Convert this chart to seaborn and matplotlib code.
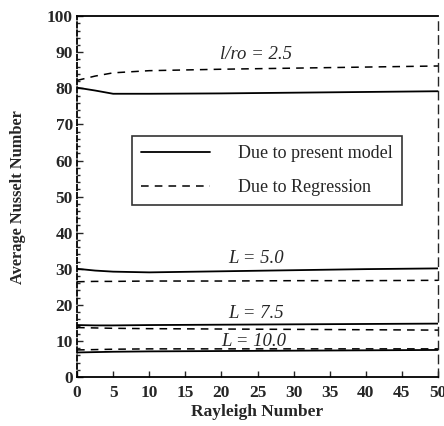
import matplotlib
matplotlib.use("Agg")
import matplotlib.pyplot as plt
import seaborn as sns
import pandas as pd
import numpy as np
from matplotlib.ticker import MultipleLocator

sns.set_theme(style="ticks")
plt.rcParams['font.family'] = ['Liberation Serif', 'DejaVu Serif']

rayleigh = [0, 2.5, 5, 10, 20, 30, 40, 50]
uro_model = [80.2, 79.4, 78.5, 78.5, 78.6, 78.8, 79.0, 79.2]
uro_regr = [82.2, 83.4, 84.3, 84.9, 85.3, 85.6, 85.9, 86.2]
l5_model = [30.0, 29.5, 29.2, 29.0, 29.3, 29.6, 29.9, 30.1]
l5_regr = [26.4, 26.5, 26.5, 26.6, 26.6, 26.7, 26.7, 26.8]
l75_model = [14.4, 14.3, 14.3, 14.4, 14.5, 14.6, 14.7, 14.8]
l75_regr = [13.7, 13.6, 13.5, 13.4, 13.3, 13.2, 13.1, 13.0]
l10_model = [6.8, 6.9, 7.0, 7.1, 7.2, 7.3, 7.4, 7.5]
l10_regr = [7.5, 7.6, 7.7, 7.8, 7.8, 7.8, 7.8, 7.8]

series_labels = ["l/ro = 2.5", "L = 5.0", "L = 7.5", "L = 10.0"]
legend_labels = ["Due to present model", "Due to Regression"]
x_ticks = [0, 5, 10, 15, 20, 25, 30, 35, 40, 45, 50]
y_ticks = [0, 10, 20, 30, 40, 50, 60, 70, 80, 90, 100]

fig = plt.figure(figsize=(4.44, 4.26), dpi=100)
ax = fig.add_axes([0.1735, 0.115, 0.813, 0.847])

model_sets = [uro_model, l5_model, l75_model, l10_model]
regr_sets = [uro_regr, l5_regr, l75_regr, l10_regr]
for m, r in zip(model_sets, regr_sets):
    sns.lineplot(x=rayleigh, y=m, ax=ax, color="black", lw=1.3, linestyle="-")
    sns.lineplot(x=rayleigh, y=r, ax=ax, color="black", lw=1.1, linestyle=(0, (5, 4)))

ax.set_xlim(0, 50)
ax.set_ylim(0, 100)
ax.set_xticks(x_ticks)
ax.set_yticks(y_ticks)
ax.yaxis.set_minor_locator(MultipleLocator(2))
ax.tick_params(axis='both', which='major', direction='in', length=4, width=1,
               labelsize=12.5, pad=3)
ax.tick_params(axis='x', which='major', pad=6)
ax.tick_params(axis='y', which='minor', direction='in', length=2.5, width=1)
for lab in ax.get_xticklabels() + ax.get_yticklabels():
    lab.set_fontweight('bold')

for side in ['top', 'bottom', 'left']:
    ax.spines[side].set_linewidth(1.3)
    ax.spines[side].set_color('black')
ax.spines['right'].set_linestyle((0, (6, 4)))
ax.spines['right'].set_linewidth(1.0)
ax.spines['left'].set_linestyle((0, (3, 1.5)))

ax.set_xlabel("Rayleigh Number", fontsize=12.5, fontweight='bold', labelpad=2)
ax.set_ylabel("Average Nusselt Number", fontsize=11.8, fontweight='bold', labelpad=15)

label_pos = [(19.8, 89.5), (21.0, 32.8), (21.0, 17.6), (20.0, 9.8)]
for txt, (xx, yy) in zip(series_labels, label_pos):
    ax.text(xx, yy, txt, fontsize=13.5, style='italic', va='center', ha='left')

handles = [ax.lines[0], ax.lines[1]]
leg = ax.legend(handles, legend_labels, loc='upper left',
                bbox_to_anchor=(0.152, 0.668), fontsize=13,
                frameon=True, fancybox=False, edgecolor='black',
                handlelength=3.8, handletextpad=1.6, borderpad=0.5,
                labelspacing=0.95, borderaxespad=0)
leg.get_frame().set_linewidth(1.2)

fig.savefig("out.png", dpi=100)
